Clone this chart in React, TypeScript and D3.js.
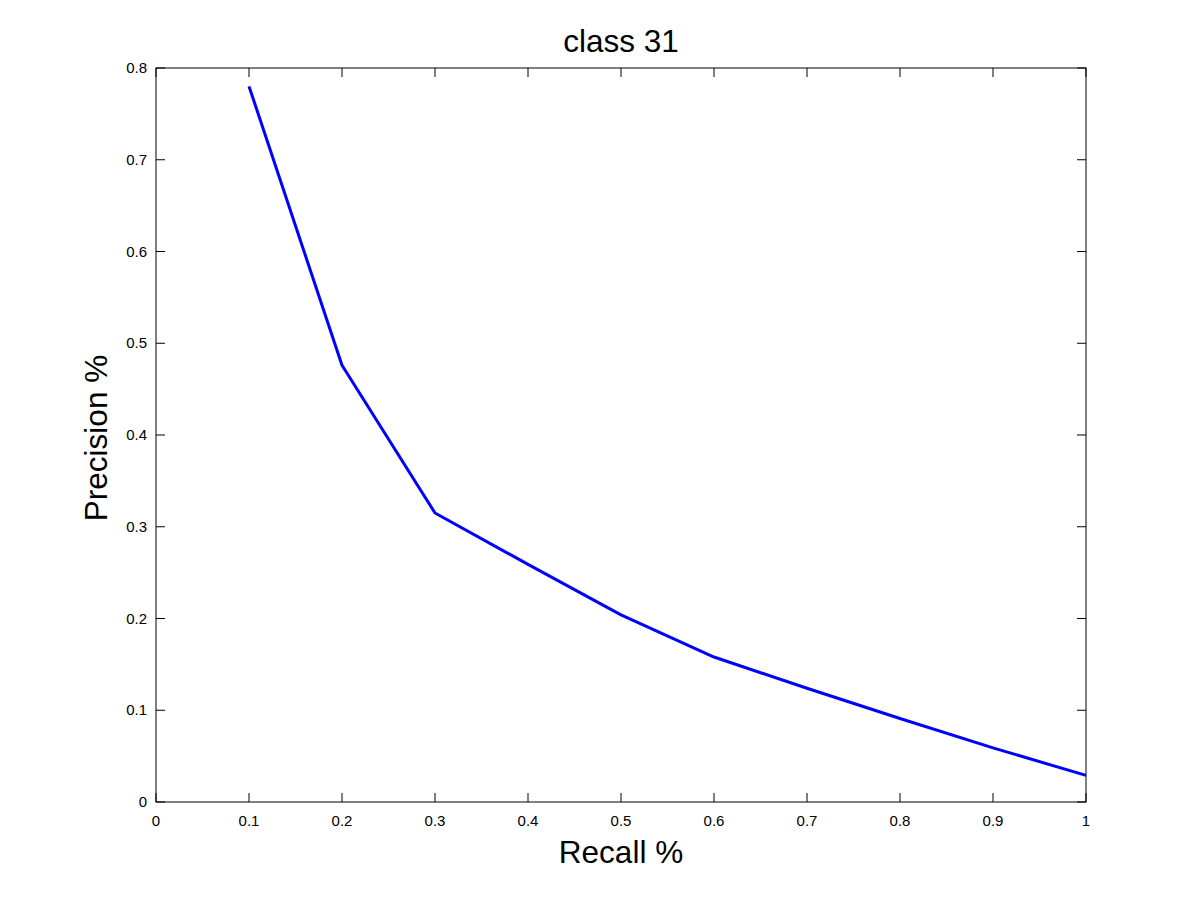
import React from "react";
import * as d3 from "d3";

const recall = [0.1, 0.2, 0.3, 0.4, 0.5, 0.6, 0.7, 0.8, 0.9, 1.0];
const precision = [0.78, 0.476, 0.315, 0.259, 0.204, 0.158, 0.124, 0.091, 0.059, 0.029];
const xTicks = [0, 0.1, 0.2, 0.3, 0.4, 0.5, 0.6, 0.7, 0.8, 0.9, 1];
const yTicks = [0, 0.1, 0.2, 0.3, 0.4, 0.5, 0.6, 0.7, 0.8];
const title = "class 31";
const xLabel = "Recall %";
const yLabel = "Precision %";

const W = 1200, H = 901;
const L = 156, R = 1086, T = 68, B = 802;
const TICK = 9;
const FONT = "'Liberation Sans', Arial, Helvetica, sans-serif";

export default function App() {
  const x = d3.scaleLinear().domain([0, 1]).range([L, R]);
  const y = d3.scaleLinear().domain([0, 0.8]).range([B, T]);
  const line = d3.line<number>().x((_, i) => x(recall[i])).y((d) => y(d));
  const fmt = (v: number) => (v === 0 ? "0" : v === 1 ? "1" : d3.format(".1f")(v));
  return (
    <svg width={W} height={H} style={{ position: "absolute", left: 0, top: 0, background: "#fff" }}>
      <rect x={0} y={0} width={W} height={H} fill="#fff" />
      <rect x={L} y={T} width={R - L} height={B - T} fill="#fff" stroke="#000" strokeWidth={1} />
      {xTicks.map((t) => (
        <g key={"x" + t}>
          <line x1={x(t)} x2={x(t)} y1={B} y2={B - TICK} stroke="#000" />
          <line x1={x(t)} x2={x(t)} y1={T} y2={T + TICK} stroke="#000" />
          <text x={x(t)} y={B + 24} textAnchor="middle" fontSize={15} fontFamily={FONT} fill="#000">
            {fmt(t)}
          </text>
        </g>
      ))}
      {yTicks.map((t) => (
        <g key={"y" + t}>
          <line x1={L} x2={L + TICK} y1={y(t)} y2={y(t)} stroke="#000" />
          <line x1={R} x2={R - TICK} y1={y(t)} y2={y(t)} stroke="#000" />
          <text x={L - 9} y={y(t) + 5} textAnchor="end" fontSize={15} fontFamily={FONT} fill="#000">
            {fmt(t)}
          </text>
        </g>
      ))}
      <path d={line(precision) || ""} fill="none" stroke="#0000ff" strokeWidth={3} strokeLinejoin="round" />
      <text x={(L + R) / 2} y={52} textAnchor="middle" fontSize={31.5} fontFamily={FONT} fill="#000">
        {title}
      </text>
      <text x={(L + R) / 2} y={863} textAnchor="middle" fontSize={31.5} fontFamily={FONT} fill="#000">
        {xLabel}
      </text>
      <text
        transform={`translate(${107},${438}) rotate(-90)`}
        textAnchor="middle"
        fontSize={31.5}
        fontFamily={FONT}
        fill="#000"
      >
        {yLabel}
      </text>
    </svg>
  );
}
